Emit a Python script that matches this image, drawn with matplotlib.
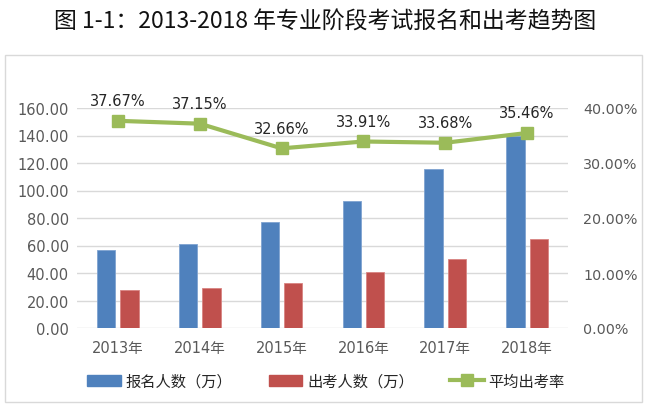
import numpy as np
import matplotlib.pyplot as plt
from matplotlib.patches import Rectangle
from matplotlib.lines import Line2D
from matplotlib.patches import Patch

anos = ['2013年', '2014年', '2015年', '2016年', '2017年', '2018年']
baoming = [57.0, 60.8, 77.3, 92.1, 115.9, 139.4]
chukao = [28.0, 29.3, 32.5, 40.5, 50.0, 64.5]
chukaolv = [37.67, 37.15, 32.66, 33.91, 33.68, 35.46]

azul = '#4F81BD'
vermelho = '#C0504D'
verde = '#9BBB59'
cinza = '#595959'

fonte_num = ['DejaVu Sans', 'Noto Sans CJK SC']
fonte_cjk = ['Noto Sans CJK SC', 'DejaVu Sans']

fig = plt.figure(figsize=(6.5, 4.1), dpi=100)

# moldura do grafico
fig.patches.append(Rectangle((5/650, 1-403/410), 637/650, 347/410, transform=fig.transFigure,
                             fill=False, edgecolor='#D9D9D9', linewidth=1))

fig.text(0.5, 1-22/410, '图 1-1：2013-2018 年专业阶段考试报名和出考趋势图', ha='center', va='center',
         fontsize=16.5, fontweight='normal', family=fonte_cjk, color='#111111')

ax = fig.add_axes([77/650, 1-329/410, 491/650, 220/410])
x = np.arange(len(anos))
larg = 0.225
ax.bar(x - 0.143, baoming, larg, color=azul, edgecolor='#7FA3D0', linewidth=0.6, zorder=3)
ax.bar(x + 0.143, chukao, larg, color=vermelho, edgecolor='#D98482', linewidth=0.6, zorder=3)
ax.set_xlim(-0.5, len(anos) - 0.5)
ax.set_ylim(0, 160)
ax.set_yticks(np.arange(0, 161, 20))
ax.set_yticklabels(['%.2f' % v for v in np.arange(0, 161, 20)], family=fonte_num, fontsize=10.5, color=cinza)
ax.set_xticks(x)
ax.set_xticklabels(anos, family=fonte_num, fontsize=10.5, color=cinza)
ax.grid(axis='y', color='#D9D9D9', linewidth=1, zorder=0)
ax.tick_params(length=0, pad=6)
ax.tick_params(axis='x', pad=9)
for s in ax.spines.values():
    s.set_visible(False)

ax2 = ax.twinx()
ax2.plot(x, chukaolv, color=verde, linewidth=3, marker='s', markersize=8, zorder=4)
ax2.set_ylim(0, 40)
ax2.set_yticks(np.arange(0, 41, 10))
ax2.set_yticklabels(['%.2f%%' % v for v in np.arange(0, 41, 10)], family=fonte_num, fontsize=10.3, color=cinza)
ax2.tick_params(length=0, pad=11)
for s in ax2.spines.values():
    s.set_visible(False)
for xi, v in zip(x, chukaolv):
    ax2.annotate('%.2f%%' % v, (xi, v), xytext=(0, 9), textcoords='offset points',
                 ha='center', va='bottom', fontsize=10.5, family=fonte_num, color='#262626')

itens = [Patch(color=azul), Patch(color=vermelho),
         Line2D([0], [0], color=verde, linewidth=3, marker='s', markersize=8)]
fig.legend(itens, ['报名人数（万）', '出考人数（万）', '平均出考率'], loc='center',
           bbox_to_anchor=(326/650, 1-382/410), ncol=3, frameon=False,
           prop={'family': fonte_cjk, 'size': 11}, handlelength=2.2, handletextpad=0.3,
           columnspacing=2.4, labelcolor='#262626')

fig.savefig('out.png', dpi=100)
